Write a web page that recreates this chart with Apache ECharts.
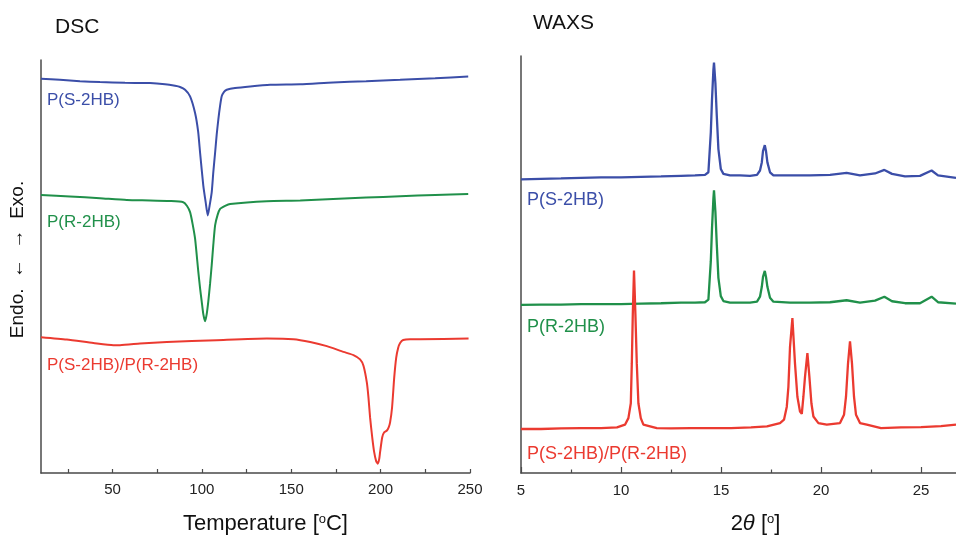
<!DOCTYPE html>
<html>
<head>
<meta charset="utf-8">
<script src="https://cdn.jsdelivr.net/npm/echarts@6/dist/echarts.min.js"></script>
<style>html,body{margin:0;padding:0;background:#fff}#c{width:956px;height:540px}</style>
</head>
<body>
<div id="c"></div>
<script>
// ---- data (y in arbitrary units) ----
const seriesNames = ['P(S-2HB)', 'P(R-2HB)', 'P(S-2HB)/P(R-2HB)'];
const dscTickLabels = [50, 100, 150, 200, 250];
const dscTickValues = [25, 50, 75, 100, 125, 150, 175, 200, 225, 250];
const waxsTickLabels = [5, 10, 15, 20, 25];
const waxsMinorTicks = [7.5, 12.5, 17.5, 22.5];

const dscS = [
  [10,198.5],[20.6,198],[31.8,197.3],[43,196.9],[57,196.5],[71,196.4],[79.4,195.8],[85,195],[87.8,194.4],
  [90.6,193],[93.4,189.7],[96.2,181.3],[97.9,172],[99,161.3],[100.8,144.7],[102.1,136.5],[103.3,129.7],
  [104.3,134.5],[105.5,141.3],[106.4,151.5],[107.4,161.3],[108.3,170.5],[109.2,178],[110.2,185],[111.1,189.7],
  [112.4,192],[113.9,193],[118.6,193.9],[127,194.7],[138.2,195.5],[155,195.8],[173.4,196.7],[191.9,197.3],
  [210.9,198],[230.5,198.8],[249,199.7]
];
const dscR = [
  [10,140],[26.2,139.3],[43,138.4],[58,137.5],[71,137.3],[82.2,137],[89.6,136.4],[91.7,134.5],[93.4,131.4],
  [94.8,125.5],[96.2,118],[98,101.4],[99,93],[99.9,86.4],[100.8,80],[101.8,76.4],[102.7,80],[103.6,86.4],
  [104.6,95.5],[105.5,104.7],[106.4,115],[107.4,124.7],[108.8,130],[110.2,133],[113,134.5],[115.8,135.5],
  [136.3,136.9],[155,137.2],[173.4,138],[191.9,138.7],[210.9,139.4],[230.5,140],[249,140.5]
];
const dscSR = [
  [10,68.4],[24.4,67.2],[39.3,65.5],[50.5,64.4],[54.2,64.4],[65.4,65.2],[80.4,66],[108.3,66.9],[136.3,67.7],
  [151.2,67.4],[160.6,66],[169.9,63.9],[179.2,61],[184.8,59.4],[188.5,57.2],[190.4,54],[192.3,45.5],[193.2,38],
  [194.1,28],[195.3,18],[196.4,10.5],[197.5,6],[198.4,4.7],[199.2,7],[199.7,10.5],[200.9,18],[202,20.5],
  [203.5,21.4],[204.5,23],[205.3,25.5],[206.4,33],[207.6,48],[208.7,58],[209.8,63],[210.9,65.5],[212.6,67],
  [216.5,67.4],[222.1,67.4],[249.2,67.7]
];
const waxsS = [
  [5,148.2],[6,148.5],[7,148.7],[8,149],[9,149.2],[10,149.2],[11,149.5],[12,149.7],[13,150],[13.7,150.2],
  [14.2,150.5],[14.37,151.8],[14.49,171.8],[14.55,188.5],[14.62,203.5],[14.65,207.2],[14.72,196.8],[14.79,180.2],
  [14.87,163.5],[14.99,153.5],[15.12,151],[15.45,150.2],[15.95,150.2],[16.45,150],[16.8,150.5],[16.95,152.7],
  [17.04,156.8],[17.1,162.5],[17.19,165.5],[17.25,162.5],[17.32,156.8],[17.45,151.8],[17.62,150.2],[18.45,150.2],
  [19.45,150.2],[20.45,150.5],[21.28,151.5],[21.95,150.2],[22.7,151.2],[23.17,153],[23.55,151],[24.2,149.7],
  [24.95,150],[25.53,152.7],[25.85,150.2],[26.75,149]
];
const waxsR = [
  [5,84.9],[6,85],[7,85],[8,85.2],[9,85.2],[10,85.2],[11,85.5],[12,85.7],[13,86],[13.7,86],[14.2,86.2],
  [14.37,87.5],[14.49,106.8],[14.55,123.5],[14.62,138.5],[14.65,142.7],[14.72,131.8],[14.79,115.2],[14.87,98.5],
  [14.99,89.3],[15.12,86.8],[15.45,86],[15.95,86],[16.45,86],[16.8,86.5],[16.95,89],[17.04,94],[17.1,99],
  [17.19,102],[17.25,99],[17.32,94],[17.45,88.5],[17.62,86.5],[18.45,86],[19.45,86],[20.45,86.2],[21.28,87.2],
  [21.95,86],[22.7,87],[23.17,89],[23.55,86.7],[24.2,85.7],[24.95,85.7],[25.53,89],[25.85,86.2],[26.75,85.5]
];
const waxsSR = [
  [5,22.2],[6,22.2],[7,22.5],[8,22.7],[9,22.7],[9.8,23],[10.2,24.4],[10.37,27.7],[10.49,35.2],[10.54,55.2],
  [10.59,80.2],[10.65,102.2],[10.72,80.2],[10.79,55.2],[10.87,35.2],[10.99,27.7],[11.12,24.4],[11.79,22.7],
  [12.5,22.5],[13.5,22.7],[14.5,22.7],[15.5,22.7],[16.5,23],[17.3,23.5],[17.95,25.2],[18.15,26.9],[18.29,33.5],
  [18.37,43.5],[18.45,63.5],[18.57,78.2],[18.7,55.2],[18.82,38.5],[18.95,31],[19.04,29.9],[19.12,38.5],
  [19.2,48.5],[19.32,60.5],[19.42,48.5],[19.52,35.2],[19.62,28.5],[19.87,25.2],[20.29,24.4],[20.95,25.2],
  [21.15,29.4],[21.25,38.5],[21.35,55.2],[21.45,66.5],[21.55,55.2],[21.65,38.5],[21.75,29.4],[21.95,25.2],
  [22.29,24.4],[23,22.7],[24,23],[25,23.2],[26,23.7],[26.75,24.4]
];

// ---- styling ----
const FONT = '"Liberation Sans", Arial, Helvetica, sans-serif';
const colors = ['#3b4ea8', '#20904a', '#eb3a30'];
const axisColor = '#4a4a4a';

const chart = echarts.init(document.getElementById('c'), null, {renderer: 'canvas'});

function lineSeries(data, color, xi, yi, width, smooth) {
  return {
    type: 'line', data: data, xAxisIndex: xi, yAxisIndex: yi,
    showSymbol: false, symbol: 'none', smooth: smooth,
    lineStyle: {color: color, width: width}, silent: true
  };
}

const option = {
  animation: false,
  backgroundColor: '#fff',
  title: [
    {text: 'DSC', left: 55, top: 17, padding: 0, textStyle: {fontFamily: FONT, fontSize: 21, fontWeight: 'normal', color: '#111'}},
    {text: 'WAXS', left: 533, top: 13, padding: 0, textStyle: {fontFamily: FONT, fontSize: 21, fontWeight: 'normal', color: '#111'}}
  ],
  grid: [
    {left: 41, top: 60, width: 429, height: 416},
    {left: 521, top: 56, width: 435, height: 421}
  ],
  xAxis: [
    {
      type: 'value', gridIndex: 0, min: 10, max: 250,
      axisLine: {show: true, lineStyle: {color: axisColor, width: 1.5}},
      axisTick: {show: true, inside: true, length: 4, customValues: dscTickValues, lineStyle: {color: axisColor, width: 1.2}},
      axisLabel: {customValues: dscTickLabels, fontFamily: FONT, fontSize: 15, color: '#222', margin: 9},
      splitLine: {show: false},
      name: '{a|Temperature [}{s|o}{a|C]}',
      nameLocation: 'middle', nameGap: 40,
      nameTextStyle: {padding: [0, 0, 0, 20], rich: {
        a: {fontFamily: FONT, fontSize: 22, color: '#111'},
        s: {fontFamily: FONT, fontSize: 13, color: '#111', padding: [0, 0, 9, 0]}
      }}
    },
    {
      type: 'value', gridIndex: 1, min: 5, max: 26.75,
      axisLine: {show: true, lineStyle: {color: axisColor, width: 1.5}},
      axisTick: {show: true, inside: true, length: 6, customValues: waxsTickLabels, lineStyle: {color: axisColor, width: 1.2}},
      axisLabel: {customValues: waxsTickLabels, fontFamily: FONT, fontSize: 15, color: '#222', margin: 10},
      splitLine: {show: false},
      name: '{a|2}{i|θ}{a| [}{s|o}{a|]}',
      nameLocation: 'middle', nameGap: 40,
      nameTextStyle: {padding: [0, 0, 0, 34], rich: {
        a: {fontFamily: FONT, fontSize: 22, color: '#111'},
        i: {fontFamily: FONT, fontSize: 22, color: '#111', fontStyle: 'italic'},
        s: {fontFamily: FONT, fontSize: 13, color: '#111', padding: [0, 0, 9, 0]}
      }}
    },
    {
      type: 'value', gridIndex: 1, min: 5, max: 26.75, position: 'bottom',
      axisLine: {show: false},
      axisTick: {show: true, inside: true, length: 3.5, customValues: waxsMinorTicks, lineStyle: {color: axisColor, width: 1.2}},
      axisLabel: {show: false},
      splitLine: {show: false}
    }
  ],
  yAxis: [
    {
      type: 'value', gridIndex: 0, min: 0, max: 208,
      axisLine: {show: true, lineStyle: {color: axisColor, width: 1.5}},
      axisTick: {show: false}, axisLabel: {show: false}, splitLine: {show: false},
      name: 'Endo.  ←  →  Exo.', nameLocation: 'middle', nameGap: 14, nameRotate: 90,
      nameTextStyle: {fontFamily: FONT, fontSize: 19, color: '#111', padding: [0, 0, 0, 14]}
    },
    {
      type: 'value', gridIndex: 1, min: 0, max: 210.5,
      axisLine: {show: true, lineStyle: {color: axisColor, width: 1.5}},
      axisTick: {show: false}, axisLabel: {show: false}, splitLine: {show: false}
    }
  ],
  series: [
    lineSeries(dscS, colors[0], 0, 0, 2, 0.2),
    lineSeries(dscR, colors[1], 0, 0, 2, 0.2),
    lineSeries(dscSR, colors[2], 0, 0, 2, 0.2),
    lineSeries(waxsS, colors[0], 1, 1, 2.3, false),
    lineSeries(waxsR, colors[1], 1, 1, 2.3, false),
    lineSeries(waxsSR, colors[2], 1, 1, 2.3, false)
  ],
  graphic: [
    {type: 'text', x: 47, y: 100.5, style: {text: seriesNames[0], fill: colors[0], font: '17px ' + FONT, verticalAlign: 'middle'}},
    {type: 'text', x: 47, y: 222, style: {text: seriesNames[1], fill: colors[1], font: '17px ' + FONT, verticalAlign: 'middle'}},
    {type: 'text', x: 47, y: 365, style: {text: seriesNames[2], fill: colors[2], font: '17px ' + FONT, verticalAlign: 'middle'}},
    {type: 'text', x: 527, y: 200.5, style: {text: seriesNames[0], fill: colors[0], font: '18px ' + FONT, verticalAlign: 'middle'}},
    {type: 'text', x: 527, y: 326.7, style: {text: seriesNames[1], fill: colors[1], font: '18px ' + FONT, verticalAlign: 'middle'}},
    {type: 'text', x: 527, y: 454, style: {text: seriesNames[2], fill: colors[2], font: '18px ' + FONT, verticalAlign: 'middle'}}
  ]
};
chart.setOption(option);
</script>
</body>
</html>
